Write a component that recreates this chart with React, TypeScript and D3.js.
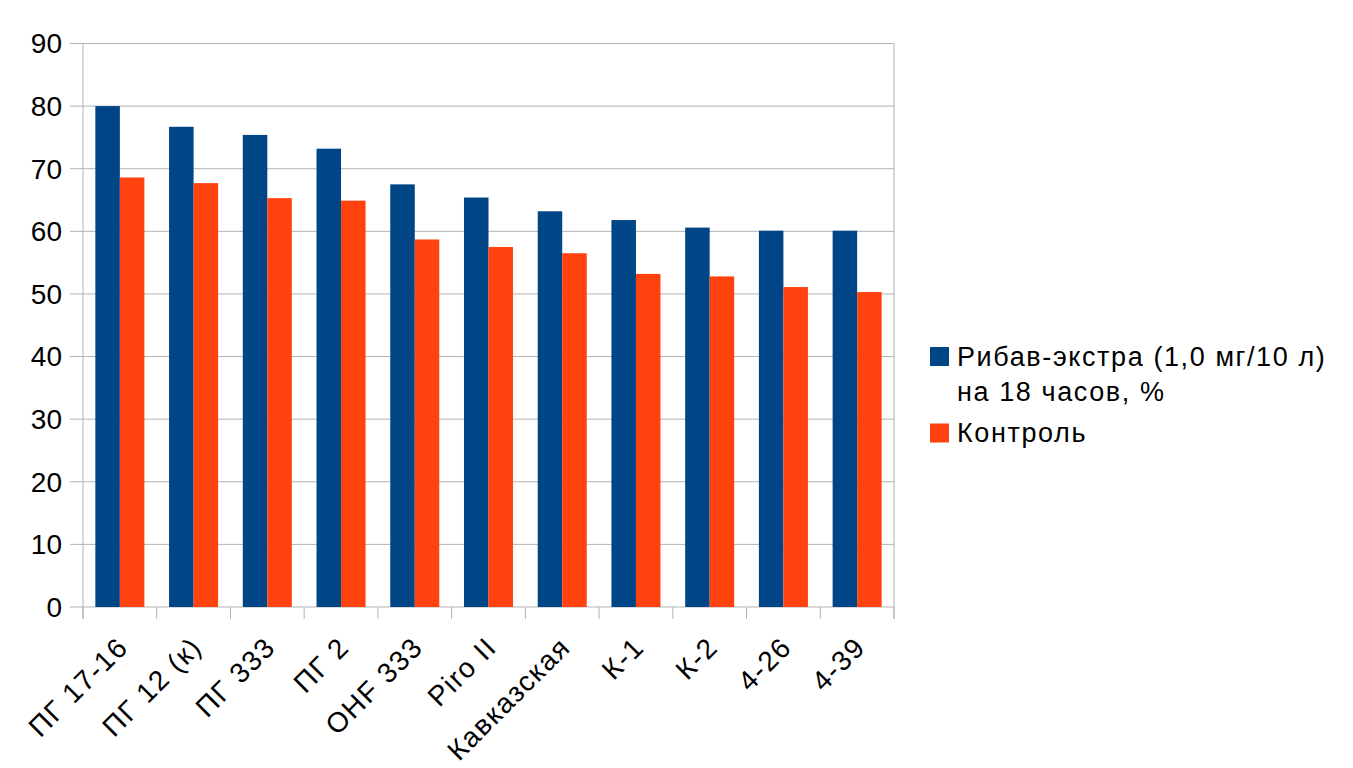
import React, { useEffect, useRef } from 'react';
import * as d3 from 'd3';

const categories = ['ПГ 17-16', 'ПГ 12 (к)', 'ПГ 333', 'ПГ 2', 'OHF 333', 'Piro II', 'Кавказская', 'К-1', 'К-2', '4-26', '4-39'];
const ribavValues = [80.0, 76.7, 75.4, 73.2, 67.5, 65.4, 63.2, 61.8, 60.6, 60.1, 60.1];
const controlValues = [68.6, 67.7, 65.3, 64.9, 58.7, 57.5, 56.5, 53.2, 52.8, 51.1, 50.3];
const yTicks = [0, 10, 20, 30, 40, 50, 60, 70, 80, 90];
const seriesNames = ['Рибав-экстра (1,0 мг/10 л)|на 18 часов, %', 'Контроль'];
const colors = ['#004586', '#ff420e'];

export default function App() {
  const svgRef = useRef<SVGSVGElement>(null);

  useEffect(() => {
    if (!svgRef.current) return;
    const svg = d3.select(svgRef.current);
    svg.selectAll('*').remove();

    const left = 83, right = 894, top = 43.5, bottom = 607;
    const font = 'Liberation Sans, Arial, sans-serif';

    const x = d3.scaleBand<string>()
      .domain(categories)
      .range([left, right])
      .paddingInner(0.335)
      .paddingOuter(0.1675);
    const y = d3.scaleLinear().domain([0, 90]).range([bottom, top]);

    // grille horizontale
    svg.append('g')
      .selectAll('line')
      .data(yTicks)
      .enter()
      .append('line')
      .attr('x1', left - 13)
      .attr('x2', right)
      .attr('y1', d => y(d))
      .attr('y2', d => y(d))
      .attr('stroke', '#b3b3b3')
      .attr('stroke-width', 1);

    // axe vertical + bord droit
    [left, right].forEach(xx => {
      svg.append('line')
        .attr('x1', xx).attr('x2', xx)
        .attr('y1', top).attr('y2', bottom + 12)
        .attr('stroke', '#b3b3b3');
    });

    // ticks catégories
    const step = x.step();
    d3.range(categories.length + 1).forEach(i => {
      const xx = left + i * step;
      svg.append('line')
        .attr('x1', xx).attr('x2', xx)
        .attr('y1', bottom).attr('y2', bottom + 12)
        .attr('stroke', '#b3b3b3');
    });

    // labels Y
    svg.append('g')
      .selectAll('text')
      .data(yTicks)
      .enter()
      .append('text')
      .attr('x', 62)
      .attr('y', d => y(d))
      .attr('dy', '0.35em')
      .attr('text-anchor', 'end')
      .style('font-family', font)
      .style('font-size', '28px')
      .text(d => d);

    const bw = x.bandwidth() / 2;
    const series = [ribavValues, controlValues];
    series.forEach((vals, si) => {
      svg.append('g')
        .selectAll('rect')
        .data(vals)
        .enter()
        .append('rect')
        .attr('x', (d, i) => (x(categories[i]) || 0) + si * bw)
        .attr('y', d => y(d))
        .attr('width', bw)
        .attr('height', d => bottom - y(d))
        .attr('fill', colors[si]);
    });

    // labels X
    svg.append('g')
      .selectAll('text')
      .data(categories)
      .enter()
      .append('text')
      .attr('transform', d => `translate(${(x(d) || 0) + x.bandwidth() / 2 - 4},${bottom + 28}) rotate(-45)`)
      .attr('text-anchor', 'end')
      .attr('dy', '0.7em')
      .style('font-family', font)
      .style('font-size', '28px')
      .style('letter-spacing', '1.5px')
      .text(d => d);

    // légende
    const legend = svg.append('g');
    const legendRows = [
      { sq: 347, lines: [366, 401] },
      { sq: 423.5, lines: [442] },
    ];
    seriesNames.forEach((name, i) => {
      legend.append('rect')
        .attr('x', 930)
        .attr('y', legendRows[i].sq)
        .attr('width', 19)
        .attr('height', 19)
        .attr('fill', colors[i]);
      name.split('|').forEach((line, j) => {
        legend.append('text')
          .attr('x', 957)
          .attr('y', legendRows[i].lines[j])
          .style('font-family', font)
          .style('font-size', '27px')
          .style('letter-spacing', '1.6px')
          .text(line);
      });
    });
  }, []);

  return (
    <svg
      ref={svgRef}
      width={1353}
      height={768}
      style={{ position: 'absolute', left: 0, top: 0, background: '#fff' }}
    />
  );
}
